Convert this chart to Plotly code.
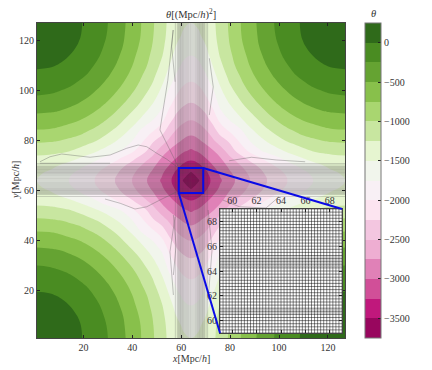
import numpy as np
import plotly.graph_objects as go

FONT = "Liberation Serif"
TEXT = "#333333"
# the page body has an 8px margin, so the figure is 16px smaller than the window
PAD = 8
W, H = 424, 362

# distance from the centre of the box, the field is mirrored around it
offsets = [0, 3, 6, 9, 12, 16, 20, 25, 30, 34, 38, 42, 46, 50, 54, 58, 63]
center = 64
theta_quadrant = [
    [-3700, -3520, -3355, -3195, -3030, -2835, -2665, -2465, -2285, -2160, -2040, -1930, -1840, -1750, -1665, -1590, -1500],
    [-3520, -3420, -3300, -3130, -2960, -2780, -2615, -2420, -2245, -2120, -2000, -1890, -1800, -1705, -1620, -1540, -1460],
    [-3355, -3300, -3170, -3000, -2860, -2685, -2515, -2315, -2135, -2000, -1880, -1770, -1680, -1590, -1505, -1430, -1370],
    [-3195, -3130, -3000, -2880, -2760, -2535, -2345, -2135, -1955, -1830, -1710, -1585, -1490, -1400, -1350, -1320, -1300],
    [-3030, -2960, -2860, -2760, -2620, -2355, -2145, -1895, -1695, -1590, -1490, -1385, -1300, -1230, -1190, -1160, -1150],
    [-2835, -2780, -2685, -2535, -2355, -2200, -1956, -1692, -1510, -1385, -1262, -1175, -1100, -1040, -995, -970, -955],
    [-2665, -2615, -2515, -2345, -2145, -1956, -1800, -1523, -1325, -1195, -1085, -995, -900, -855, -805, -775, -765],
    [-2465, -2420, -2315, -2135, -1895, -1692, -1523, -1320, -1115, -990, -865, -780, -710, -655, -610, -580, -565],
    [-2285, -2245, -2135, -1955, -1695, -1510, -1325, -1115, -940, -805, -700, -610, -530, -470, -415, -395, -380],
    [-2160, -2120, -2000, -1830, -1590, -1385, -1195, -990, -805, -685, -580, -480, -400, -340, -295, -265, -250],
    [-2040, -2000, -1880, -1710, -1490, -1262, -1085, -865, -700, -580, -465, -365, -290, -230, -190, -160, -150],
    [-1930, -1890, -1770, -1585, -1385, -1175, -995, -780, -610, -480, -365, -270, -200, -140, -95, -65, -50],
    [-1840, -1800, -1680, -1490, -1300, -1100, -900, -710, -530, -400, -290, -200, -125, -65, -10, 20, 30],
    [-1750, -1705, -1590, -1400, -1230, -1040, -855, -655, -470, -340, -230, -140, -65, 5, 50, 90, 110],
    [-1665, -1620, -1505, -1350, -1190, -995, -805, -610, -415, -295, -190, -95, -10, 50, 115, 165, 185],
    [-1590, -1540, -1430, -1320, -1160, -970, -775, -580, -395, -265, -160, -65, 20, 90, 165, 200, 225],
    [-1500, -1460, -1370, -1300, -1150, -955, -765, -565, -380, -250, -150, -50, 30, 110, 185, 225, 240],
]
band_colors = [
    "#98065e", "#c0187c", "#d14f98", "#e081b7", "#eeaed2", "#f3c6e0", "#fce4f0", "#f8f0f5",
    "#f1f5ec", "#e6f5d0", "#c8e6a0", "#a9d670", "#88c04b", "#65a332", "#4a8c22", "#2f6a1a",
]
cbar_ticks = [0, -500, -1000, -1500, -2000, -2500, -3000, -3500]
main_ticks = [20, 40, 60, 80, 100, 120]
inset_ticks = [60, 62, 64, 66, 68]

# mesh lines seen in the inset
inset_mesh = [
    59, 59.25, 59.5, 59.75, 60, 60.25, 60.5, 60.75, 61, 61.25, 61.5, 61.75, 62, 62.25,
    62.5, 62.75, 63, 63.25, 63.5, 63.75, 64, 64.25, 64.5, 64.75, 65, 65.25, 65.5, 65.75,
    66, 66.25, 66.5, 66.75, 67, 67.25, 67.5, 67.75, 68, 68.25, 68.5, 68.75, 69,
]
inset_gray_rows = [60.625, 60.875, 64.375, 64.625, 64.875, 65.125]
# the same mesh in the big panel, uneven so it keeps the lighter strips
main_mesh = [
    57.6, 58.4, 58.8, 59.1, 59.4, 59.7, 60, 60.3, 60.6, 60.9, 61.3, 61.7, 62.1, 62.5, 62.9,
    63.3, 63.8, 64.3, 64.8, 65.3, 65.8, 66.2, 66.6, 66.9, 67.2, 67.5, 67.8, 68.1, 68.4, 68.7,
    69, 69.3, 69.6, 70.2, 70.8,
]

# thin grey curves around the mesh
curve_top_left_x = [2.2, 6.3, 11.1, 16.5, 22.7, 30.9, 37.7, 42.4, 45.9, 50, 54.1, 58.2]
curve_top_left_y = [71.5, 73.5, 74.6, 74.1, 73.3, 74.2, 76.9, 78.2, 77.5, 74.9, 72.5, 69.5]
curve_up_left_x = [57.5, 56.1, 56.7, 54.5, 51.3, 54.1, 56.8, 58.8]
curve_up_left_y = [103.5, 117.5, 124.2, 104, 84.2, 78.9, 73.5, 69.5]
curve_up_right_x = [71.5, 73.1, 71.5]
curve_up_right_y = [112.9, 101.5, 90.2]
curve_low_left_x = [28.8, 35, 41.1, 45.9, 51.3, 58.2]
curve_low_left_y = [56.6, 54.9, 52.6, 53.5, 56.2, 59.5]
curve_down_a_x = [56.8, 55.4, 57.5]
curve_down_a_y = [18.2, 35.5, 49.5]
curve_down_b_x = [56.8, 57.9, 56.8]
curve_down_b_y = [26.2, 38.2, 50.2]
curve_down_c_x = [71, 72.6, 71]
curve_down_c_y = [52.2, 36.2, 16.2]
curve_right_x = [79.6, 88.8, 99, 110.7]
curve_right_y = [71.9, 73.3, 72.2, 71.5]
curve_low_right_x = [77, 83.8, 94.7, 100]
curve_low_right_y = [56.2, 53.5, 53, 57.5]
curve_stub_x = [2.2, 30.9]
curve_stub_y = [70.9, 70.9]
curves = [
    (curve_top_left_x, curve_top_left_y), (curve_up_left_x, curve_up_left_y),
    (curve_up_right_x, curve_up_right_y), (curve_low_left_x, curve_low_left_y),
    (curve_down_a_x, curve_down_a_y), (curve_down_b_x, curve_down_b_y),
    (curve_down_c_x, curve_down_c_y), (curve_right_x, curve_right_y),
    (curve_low_right_x, curve_low_right_y), (curve_stub_x, curve_stub_y),
]

# panel rectangles in window pixels
MAIN = (37, 345, 23, 338)
INSET = (220, 342, 209, 333)


def page_x(px):
    return (px - PAD) / W


def page_y(py):
    return 1 - (py - PAD) / H


def mesh_lines(pos, lo, hi):
    along, across = [], []
    for p in pos:
        along += [lo, hi, None]
        across += [p, p, None]
    return along, across


def paper_point(x, y):
    px = MAIN[0] + (x - 1) / 126 * (MAIN[1] - MAIN[0])
    py = MAIN[3] - (y - 1) / 126 * (MAIN[3] - MAIN[2])
    return page_x(px), page_y(py)


half = np.array(theta_quadrant)
top = np.concatenate([half[:0:-1], half], axis=0)
theta = np.concatenate([top[:, :0:-1], top], axis=1)
off = np.array(offsets)
coords = np.concatenate([center - off[:0:-1], center + off])

n = len(band_colors)
scale = []
for i, c in enumerate(band_colors):
    scale += [[i / n, c], [(i + 1) / n, c]]

fig = go.Figure()
fig.add_trace(go.Contour(
    x=coords, y=coords, z=theta,
    colorscale=scale, zauto=False, zmin=-3750, zmax=250,
    contours=dict(start=-3750, end=250, size=250, coloring="fill", showlines=False),
    line=dict(width=0, smoothing=1.3),
    hoverinfo="skip",
    colorbar=dict(
        x=page_x(365), xanchor="left", xpad=0,
        y=page_y(338), yanchor="bottom", ypad=0,
        len=315 / H, lenmode="fraction", thickness=16,
        outlinecolor="#777777", outlinewidth=1,
        tickmode="array", tickvals=cbar_ticks,
        ticktext=[str(t).replace("-", "\u2212") for t in cbar_ticks],
        ticks="inside", ticklen=3, tickcolor="#222222",
        tickfont=dict(family=FONT, size=10, color=TEXT),
    ),
))

# grey mesh in the big panel
vx, vy = mesh_lines(main_mesh, 1, 127)
fig.add_trace(go.Scatter(x=vy, y=vx, mode="lines", line=dict(color="rgba(60,60,60,0.36)", width=0.6),
                         hoverinfo="skip", showlegend=False))
fig.add_trace(go.Scatter(x=vx, y=vy, mode="lines", line=dict(color="rgba(60,60,60,0.36)", width=0.6),
                         hoverinfo="skip", showlegend=False))
for cx, cy in curves:
    fig.add_trace(go.Scatter(x=cx, y=cy, mode="lines", line=dict(color="rgba(90,90,90,0.6)", width=0.6),
                             hoverinfo="skip", showlegend=False))

# inset mesh
ix, iy = mesh_lines(inset_mesh, 59, 69)
fig.add_trace(go.Scatter(x=ix, y=iy, xaxis="x2", yaxis="y2", mode="lines",
                         line=dict(color="rgba(0,0,0,0.6)", width=0.8), hoverinfo="skip", showlegend=False))
fig.add_trace(go.Scatter(x=iy, y=ix, xaxis="x2", yaxis="y2", mode="lines",
                         line=dict(color="rgba(0,0,0,0.6)", width=0.8), hoverinfo="skip", showlegend=False))
gx, gy = mesh_lines(inset_gray_rows, 59, 69)
fig.add_trace(go.Scatter(x=gx, y=gy, xaxis="x2", yaxis="y2", mode="lines",
                         line=dict(color="rgba(120,120,120,0.5)", width=1), hoverinfo="skip", showlegend=False))

axis_common = dict(
    ticks="inside", ticklen=3, tickcolor="#222222", showgrid=False, zeroline=False,
    showline=True, linecolor="#444444", linewidth=1, mirror="ticks",
    tickfont=dict(family=FONT, size=10, color=TEXT),
)
fig.update_layout(
    width=W, height=H,
    margin=dict(l=0, r=0, t=0, b=0),
    paper_bgcolor="white", plot_bgcolor="white",
    showlegend=False,
    xaxis=dict(domain=[page_x(MAIN[0]), page_x(MAIN[1])], range=[1, 127], tickvals=main_ticks, **axis_common),
    yaxis=dict(domain=[page_y(MAIN[3]), page_y(MAIN[2])], range=[1, 127], tickvals=main_ticks, **axis_common),
    xaxis2=dict(domain=[page_x(INSET[0]), page_x(INSET[1])], range=[59, 69], tickvals=inset_ticks,
                side="top", anchor="y2", **axis_common),
    yaxis2=dict(domain=[page_y(INSET[3]), page_y(INSET[2])], range=[59, 69], tickvals=inset_ticks,
                anchor="x2", **axis_common),
)

# zoom box and its two connector lines
blue = dict(color="#0a0ae6", width=2)
fig.add_shape(type="rect", xref="x", yref="y", x0=59, x1=69, y0=59, y1=69, line=blue)
x0, y0 = paper_point(69, 69)
fig.add_shape(type="line", xref="paper", yref="paper", x0=x0, y0=y0,
              x1=page_x(INSET[1]), y1=page_y(INSET[2]), line=blue)
x0, y0 = paper_point(59, 59)
fig.add_shape(type="line", xref="paper", yref="paper", x0=x0, y0=y0,
              x1=page_x(INSET[0]), y1=page_y(INSET[3]), line=blue)

labels = [
    ("<i>\u03b8</i>[(Mpc/<i>h</i>)<sup>2</sup>]", 191, 14, 0, 10.5),
    ("<i>\u03b8</i>", 373, 14, 0, 10.5),
    ("<i>x</i>[Mpc/<i>h</i>]", 191, 358, 0, 10),
    ("<i>y</i>[Mpc/<i>h</i>]", 15, 180, -90, 10),
]
for text, px, py, angle, size in labels:
    fig.add_annotation(text=text, xref="paper", yref="paper", x=page_x(px), y=page_y(py),
                       showarrow=False, textangle=angle, xanchor="center", yanchor="middle",
                       font=dict(family=FONT, size=size, color=TEXT))

fig.write_html("out.html")
